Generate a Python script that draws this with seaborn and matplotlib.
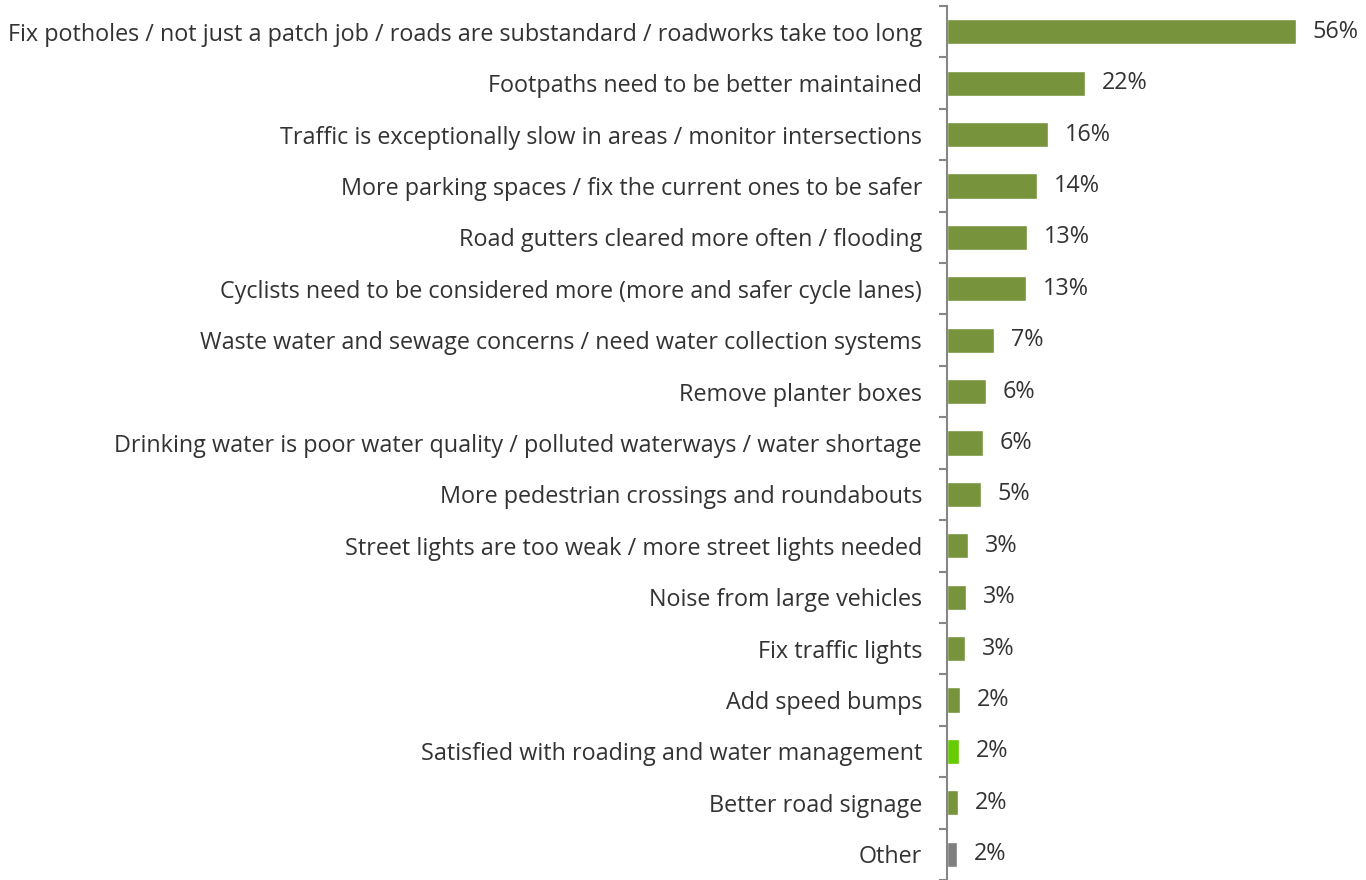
import matplotlib
matplotlib.use("Agg")
import matplotlib.pyplot as plt
import seaborn as sns
import pandas as pd
import numpy as np
from matplotlib.ticker import FixedLocator

categories = [
    "Fix potholes / not just a patch job / roads are substandard / roadworks take too long",
    "Footpaths need to be better maintained",
    "Traffic is exceptionally slow in areas / monitor intersections",
    "More parking spaces / fix the current ones to be safer",
    "Road gutters cleared more often / flooding",
    "Cyclists need to be considered more (more and safer cycle lanes)",
    "Waste water and sewage concerns / need water collection systems",
    "Remove planter boxes",
    "Drinking water is poor water quality / polluted waterways / water shortage",
    "More pedestrian crossings and roundabouts",
    "Street lights are too weak / more street lights needed",
    "Noise from large vehicles",
    "Fix traffic lights",
    "Add speed bumps",
    "Satisfied with roading and water management",
    "Better road signage",
    "Other",
]
values = [56.0, 22.2, 16.3, 14.4, 12.8, 12.7, 7.5, 6.2, 5.8, 5.4, 3.4, 3.0, 2.9, 2.1, 2.0, 1.8, 1.6]
pct_labels = ["56%", "22%", "16%", "14%", "13%", "13%", "7%", "6%", "6%", "5%",
              "3%", "3%", "3%", "2%", "2%", "2%", "2%"]
groups = ["issue"] * 14 + ["satisfied", "issue", "other"]

palette = {"issue": "#77933C", "satisfied": "#66CC00", "other": "#7F7F7F"}

df = pd.DataFrame({"category": categories, "value": values, "group": groups})

sns.set_style("white")
plt.rcParams["font.family"] = ["Open Sans", "DejaVu Sans"]

fig = plt.figure(figsize=(13.66, 8.8), dpi=100)
ax = fig.add_axes([947 / 1366, 0, 1 - 947 / 1366, 1 - 6 / 880])

sns.barplot(data=df, x="value", y="category", hue="group", palette=palette,
            dodge=False, legend=False, width=0.49, ax=ax, saturation=1)

text_col = "#333333"
for i, (v, lab) in enumerate(zip(values, pct_labels)):
    ax.text(v + 2.7, i, lab, va="center", ha="left", fontsize=16.8, color=text_col)

ax.set_xlim(0, 67.3)
ax.set_ylim(len(categories) - 0.5, -0.5)
ax.set_xlabel("")
ax.set_ylabel("")
ax.set_xticks([])

for s in ["top", "right", "bottom"]:
    ax.spines[s].set_visible(False)
ax.spines["left"].set_color("#868686")
ax.spines["left"].set_linewidth(1.5)

ax.yaxis.set_minor_locator(FixedLocator(np.arange(-0.5, len(categories), 1.0)))
ax.tick_params(axis="y", which="major", left=False, length=0, pad=18,
               labelsize=16.8, labelcolor=text_col)
ax.tick_params(axis="y", which="minor", left=True, length=6, width=1.5,
               color="#868686", direction="out")

fig.savefig("out.png", dpi=100)
